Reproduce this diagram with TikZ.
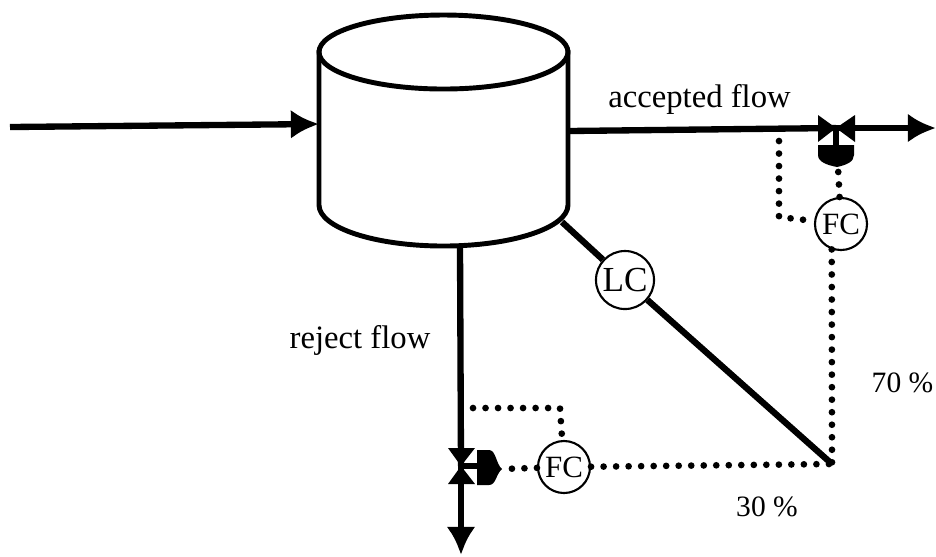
\documentclass[tikz,border=0pt]{standalone}
\usepackage{fontspec}
\setmainfont{Liberation Serif}
\usetikzlibrary{arrows.meta}
\tikzset{
  flow/.style={line width=1.8pt},
  sig/.style={line width=1.9pt, line cap=round, dash pattern=on 0pt off 3.56pt},
  ctrl/.style={circle, draw, line width=.6pt, fill=white, inner sep=0pt, minimum size=.52cm, font=\fontsize{8.8}{10}\selectfont},
  lbl/.style={inner sep=0pt, font=\fontsize{9.3}{11}\selectfont},
  pct/.style={inner sep=0pt, font=\fontsize{8.4}{10}\selectfont}
}
\begin{document}
\begin{tikzpicture}[>={Latex[length=8pt,width=8.2pt]}, x=.01cm, y=-.01cm, line join=round]
\useasboundingbox (0,0) rectangle (936,556);
% tank
\draw[line width=1.4pt] (319,50) -- (319,205) arc[start angle=180, end angle=0, x radius=124.5, y radius=41] -- (568,50);
\draw[line width=1.4pt] (443.5,52) ellipse[x radius=124.5, y radius=37];
\coordinate (tankin) at (319,124);
\coordinate (tankacc) at (568,131);
\coordinate (tankrej) at (460,246);
\coordinate (tanklc) at (562,222);
% ends of the lines
\coordinate (feed) at (10,127);
\coordinate (accend) at (936,128);
\coordinate (rejend) at (461,555);
\coordinate (jn) at (832,464);
\coordinate (valveA) at (836,128);
\coordinate (valveB) at (461,466);
\coordinate (tapA) at (779,141);
\coordinate (tapB) at (473,408);
\coordinate (cornerA) at (779,217);
\coordinate (cornerB) at (560,408);
\coordinate (actA) at (838,167);
\coordinate (actB) at (501,469);
% controllers
\node[ctrl] (fcA) at (841,224) {FC};
\node[ctrl] (fcB) at (564,467) {FC};
\node[ctrl, minimum size=.58cm, font=\fontsize{10}{12}\selectfont] (lc) at (625,280) {LC};
% flows
\draw[flow, ->] (feed) -- (tankin);
\draw[flow] (tankacc) -- (valveA);
\draw[flow, ->] (valveA) -- (accend);
\draw[flow] (tankrej) -- (valveB);
\draw[flow, ->] (valveB) -- (rejend);
\draw[flow] (tanklc) -- (lc);
\draw[flow] (lc) -- (jn);
% signals
\draw[sig] (tapA) -- (cornerA) -- (fcA);
\draw[sig] (fcA) -- (actA);
\draw[sig] (fcA.250) -- (jn);
\draw[sig] (tapB) -- (cornerB) -- (fcB);
\draw[sig] (fcB) -- (actB);
\draw[sig] (fcB) -- (jn);
% valves
\fill (818,115) -- (818,142) -- (836,128) -- cycle;
\fill (855,115) -- (855,142) -- (836,128) -- cycle;
\draw[line width=1.6pt] (valveA) -- (836,146);
\fill (818,145) -- (854,145) -- (854,155) .. controls (854,162) and (846,165) .. (837,167) .. controls (827,165) and (818,162) .. (818,155) -- cycle;
\fill (448,448) -- (475,448) -- (461,466) -- cycle;
\fill (448,484) -- (475,484) -- (461,466) -- cycle;
\draw[line width=1.6pt] (valveB) -- (478,466);
\fill (477,450) -- (489,450) .. controls (496,450) and (496,464) .. (502,469) .. controls (496,474) and (496,485) .. (489,485) -- (477,485) -- cycle;
% labels
\node[lbl] (acc) at (699.5,99) {accepted flow};
\node[lbl] (rej) at (360,340) {reject flow};
\node[pct] (seventy) at (902.5,383) {70 \%};
\node[pct] (thirty) at (767,507) {30 \%};
\end{tikzpicture}
\end{document}
